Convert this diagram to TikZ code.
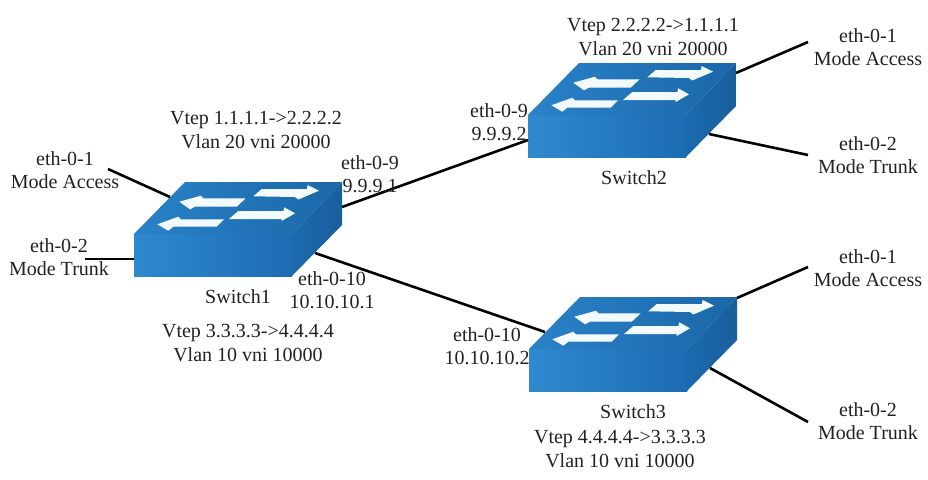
\documentclass[tikz,border=0pt]{standalone}
\usepackage{fontspec}
\setmainfont{Liberation Serif}
\definecolor{inkgrey}{HTML}{222222}
\definecolor{frontlight}{HTML}{2F89CF}
\definecolor{frontdark}{HTML}{1C6CB2}
\definecolor{toplight}{HTML}{2A82C8}
\definecolor{topdark}{HTML}{1A67A8}
\definecolor{sidelight}{HTML}{1B6AAE}
\definecolor{sidedark}{HTML}{195E9C}
\definecolor{arrowpale}{HTML}{F2FAFE}
\tikzset{
  x=1pt,y=-1pt,
  wire/.style={draw=black,line width=2.6pt},
  lbl/.style={align=center,inner sep=0pt,text=inkgrey,font=\fontsize{20}{23.5}\selectfont},
  flowarrow/.style={fill=arrowpale,draw=none},
  switchbox/.pic={
    % body of the switch: front, top and right faces
    \shade[left color=frontlight,right color=frontdark] (0,0) -- (158,0) -- (158,-42) -- (0,-42) -- cycle;
    \shade[left color=toplight,right color=topdark] (0,-42) -- (51,-94) -- (208,-94) -- (158,-42) -- cycle;
    \shade[left color=sidelight,right color=sidedark] (158,0) -- (158,-42) -- (208,-94) -- (208,-51) -- cycle;
    % four traffic arrows on the top face
    \fill[flowarrow] (127.7,-87) -- (172.7,-87) -- (173.7,-91) -- (185,-85.3) -- (164.3,-76.5) -- (161,-79) -- (119.3,-79.7) -- cycle;
    \fill[flowarrow] (45.3,-74.3) -- (67,-80.3) -- (69.3,-77.7) -- (111.7,-77.7) -- (102.7,-69.3) -- (61,-69.3) -- (56,-66.7) -- cycle;
    \fill[flowarrow] (104.3,-65) -- (95,-57) -- (147.7,-57) -- (147.7,-55) -- (161,-62.7) -- (150.3,-68.7) -- (149.3,-65) -- cycle;
    \fill[flowarrow] (23.3,-51.7) -- (44.3,-59.3) -- (47,-56.7) -- (90,-56.7) -- (82.7,-49.3) -- (39.3,-49.3) -- (34.3,-45.3) -- cycle;
    % attachment points for the links
    \coordinate (-topleft) at (36,-79);
    \coordinate (-topleftlow) at (16,-59);
    \coordinate (-front) at (0,-17);
    \coordinate (-rightmid) at (208,-69);
    \coordinate (-rightup) at (208,-84);
    \coordinate (-rightcorner) at (208,-93);
    \coordinate (-under) at (181,-23);
  }
}
\begin{document}
\begin{tikzpicture}
\useasboundingbox (0,0) rectangle (928,479);
\fill[white] (0,0) rectangle (928,479);

% switches
\pic (swa) at (134,276) {switchbox};
\pic (swb) at (528,157) {switchbox};
\pic (swc) at (529,391) {switchbox};

% free ends of the access and trunk links
\coordinate (aacc) at (108,169);
\coordinate (atrk) at (85,259);
\coordinate (bacc) at (808,42);
\coordinate (btrk) at (808,155);
\coordinate (cacc) at (808,267);
\coordinate (ctrk) at (808,422);

% links
\draw[wire] (swa-topleft) -- (aacc);
\draw[wire] (swa-front) -- (atrk);
\draw[wire] (swa-rightmid) -- (swb-front);
\draw[wire] (swa-under) -- (swc-topleftlow);
\draw[wire] (swb-rightup) -- (bacc);
\draw[wire] (swb-under) -- (btrk);
\draw[wire] (swc-rightcorner) -- (cacc);
\draw[wire] (swc-under) -- (ctrk);

% labels around Switch1
\node[lbl] (a1) at (65,170) {eth-0-1\\Mode Access};
\node[lbl] (a2) at (59,257) {eth-0-2\\Mode Trunk};
\node[lbl] (a3) at (370,174) {eth-0-9\\9.9.9.1};
\node[lbl] (a4) at (332,290) {eth-0-10\\10.10.10.1};
\node[lbl] (a5) at (256,130) {Vtep 1.1.1.1->2.2.2.2\\Vlan 20 vni 20000};
\node[lbl] (a6) at (248,343) {Vtep 3.3.3.3->4.4.4.4\\Vlan 10 vni 10000};
\node[lbl] (a7) at (238,297) {Switch1};

% labels around Switch2
\node[lbl] (b1) at (868,47) {eth-0-1\\Mode Access};
\node[lbl] (b2) at (868,155) {eth-0-2\\Mode Trunk};
\node[lbl] (b3) at (499,122) {eth-0-9\\9.9.9.2};
\node[lbl] (b4) at (653,37) {Vtep 2.2.2.2->1.1.1.1\\Vlan 20 vni 20000};
\node[lbl] (b5) at (634,178) {Switch2};

% labels around Switch3
\node[lbl] (c1) at (868,268) {eth-0-1\\Mode Access};
\node[lbl] (c2) at (868,421) {eth-0-2\\Mode Trunk};
\node[lbl] (c3) at (487,346) {eth-0-10\\10.10.10.2};
\node[lbl] (c4) at (620,449) {Vtep 4.4.4.4->3.3.3.3\\Vlan 10 vni 10000};
\node[lbl] (c5) at (633,412) {Switch3};
\end{tikzpicture}
\end{document}
